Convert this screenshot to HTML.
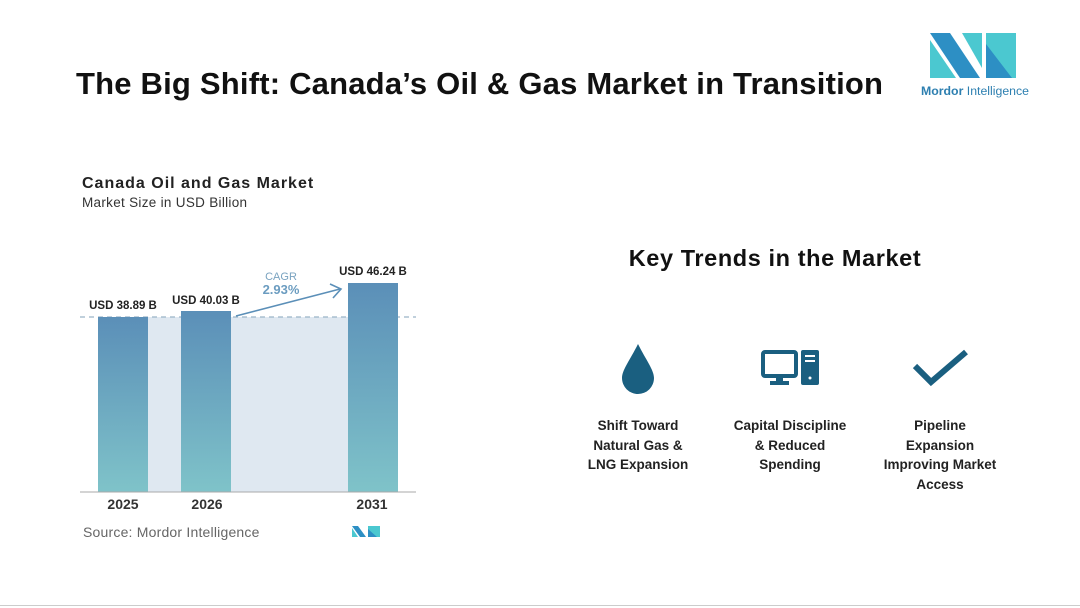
<!DOCTYPE html>
<html><head><meta charset="utf-8"><style>
body{margin:0;width:1080px;height:608px;background:#fff;position:relative;overflow:hidden;font-family:"Liberation Sans",sans-serif}
.a{position:absolute}
.t{font-weight:bold;color:#222;font-size:13.5px;text-align:center;line-height:19.5px}
</style></head><body>
<div class="a" style="left:0;top:605px;width:1080px;height:1px;background:#ccc"></div>
<div class="a" style="left:76px;top:66px;font-size:31px;font-weight:bold;color:#111;letter-spacing:0.2px;white-space:nowrap">The Big Shift: Canada’s Oil &amp; Gas Market in Transition</div>
<svg class="a" style="left:920px;top:30px" width="110" height="72">
<polygon points="10,3 30,3 60,48 40,48" fill="#2d8fc4"/>
<polygon points="10,10 10,48 36,48" fill="#4bc8d0"/>
<polygon points="42,3 62,3 62,38" fill="#4bc8d0"/>
<polygon points="66,3 96,3 96,48 66,48" fill="#4bc8d0"/>
<polygon points="66,14 92,48 66,48" fill="#2d8fc4"/>
<text x="1" y="65" font-size="12.3" fill="#2d7fb0" font-family="Liberation Sans"><tspan font-weight="bold">Mordor</tspan> Intelligence</text>
</svg>
<div class="a" style="left:82px;top:175px;font-size:16px;font-weight:bold;color:#222;letter-spacing:1px;white-space:nowrap">Canada Oil and Gas Market</div>
<div class="a" style="left:82px;top:195px;font-size:13.5px;color:#333;letter-spacing:0.3px;white-space:nowrap">Market Size in USD Billion</div>
<svg class="a" style="left:0;top:0" width="540" height="608">
<defs><linearGradient id="g" x1="0" y1="0" x2="0" y2="1"><stop offset="0" stop-color="#5b8fb8"/><stop offset="1" stop-color="#7fc3c9"/></linearGradient></defs>
<rect x="148" y="317" width="200" height="175" fill="#dfe8f1"/>
<line x1="80" y1="317" x2="416" y2="317" stroke="#9bb5c8" stroke-dasharray="5,4" stroke-width="1.2"/>
<rect x="98" y="317" width="50" height="175" fill="url(#g)"/>
<rect x="181" y="311" width="50" height="181" fill="url(#g)"/>
<rect x="348" y="283" width="50" height="209" fill="url(#g)"/>
<line x1="80" y1="492" x2="416" y2="492" stroke="#aaa"/>
<polyline points="236,316 340,289" stroke="#5b8fb8" stroke-width="1.6" fill="none"/>
<polyline points="330,284 341,289 333,298" stroke="#5b8fb8" stroke-width="1.6" fill="none"/>
<g font-family="Liberation Sans" font-weight="bold" font-size="11.5" fill="#222" text-anchor="middle">
<text x="123" y="309">USD 38.89 B</text><text x="206" y="304">USD 40.03 B</text><text x="373" y="275">USD 46.24 B</text></g>
<text x="281" y="280" font-size="11" fill="#7aa3c0" text-anchor="middle" font-family="Liberation Sans">CAGR</text>
<text x="281" y="294" font-size="13" font-weight="bold" fill="#6b9cc0" text-anchor="middle" font-family="Liberation Sans">2.93%</text>
<g font-family="Liberation Sans" font-weight="bold" font-size="14" fill="#333" text-anchor="middle">
<text x="123" y="509">2025</text><text x="207" y="509">2026</text><text x="372" y="509">2031</text></g>
<text x="83" y="537" font-size="14" fill="#666" font-family="Liberation Sans" letter-spacing="0.2">Source: Mordor Intelligence</text>
<polygon points="352,526 358,526 366,537 360,537" fill="#2d8fc4"/><polygon points="352,528 352,537 358,537" fill="#4bc8d0"/>
<polygon points="368,526 380,526 380,537 368,537" fill="#4bc8d0"/><polygon points="368,529 377,537 368,537" fill="#2d8fc4"/>
</svg>
<div class="a" style="left:560px;top:245px;width:430px;text-align:center;font-size:23.5px;font-weight:bold;color:#111;letter-spacing:0.6px;white-space:nowrap">Key Trends in the Market</div>
<svg class="a" style="left:600px;top:330px" width="400" height="80">
<path d="M38,14 C30,30 22,40 22,48 A16,16 0 0 0 54,48 C54,40 46,30 38,14Z" fill="#1a5f80"/>
<rect x="163" y="22" width="33" height="24" rx="2" fill="none" stroke="#1a5f80" stroke-width="4"/>
<rect x="176" y="46" width="7" height="6" fill="#1a5f80"/><rect x="170" y="51" width="19" height="4" fill="#1a5f80"/>
<rect x="201" y="20" width="18" height="35" rx="2" fill="#1a5f80"/>
<rect x="205" y="25" width="10" height="2" fill="#fff"/><rect x="205" y="30" width="10" height="2" fill="#fff"/><circle cx="210" cy="48" r="1.5" fill="#fff"/>
<polyline points="315,36 331,52 366,22" fill="none" stroke="#1a5f80" stroke-width="6"/>
</svg>
<div class="a t" style="left:568px;top:416px;width:140px">Shift Toward<br>Natural Gas &amp;<br>LNG Expansion</div>
<div class="a t" style="left:715px;top:416px;width:150px">Capital Discipline<br>&amp; Reduced<br>Spending</div>
<div class="a t" style="left:870px;top:416px;width:140px">Pipeline<br>Expansion<br>Improving Market<br>Access</div>
</body></html>
